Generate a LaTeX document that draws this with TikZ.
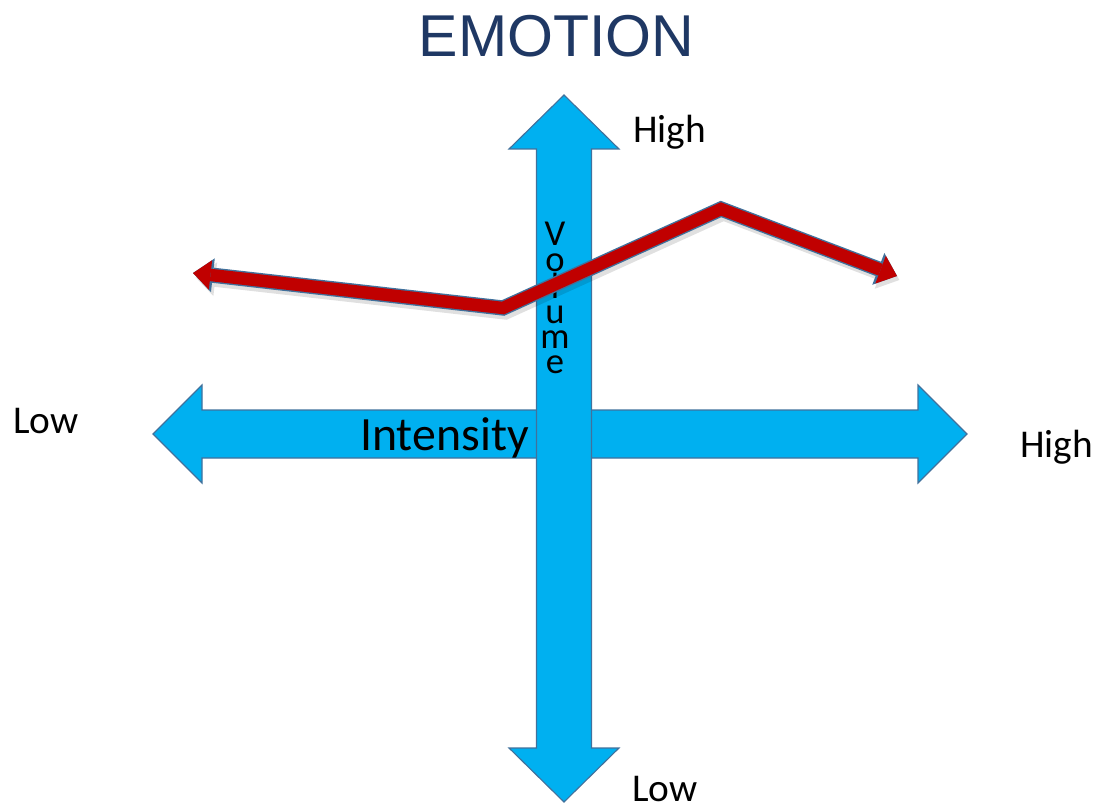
\documentclass[tikz,border=0pt]{standalone}
\usepackage{fontspec}
\setmainfont{Carlito}
\newfontfamily\titlefont{Liberation Sans}
\usetikzlibrary{arrows.meta}

\definecolor{axisblue}{RGB}{0,176,240}
\definecolor{axisline}{RGB}{65,113,156}
\definecolor{trendred}{RGB}{192,0,0}
\definecolor{titlenavy}{RGB}{31,56,100}

\tikzset{
  axisarrow/.style={fill=axisblue, draw=axisline, line width=0.8pt},
  scalelabel/.style={font=\fontsize{28}{28}\selectfont, inner sep=0pt, anchor=base west},
  trendshadow/.style={draw=black, opacity=0.12, line width=0.38cm,
    transform canvas={xshift=0.06cm, yshift=-0.1cm},
    {Triangle[length=0.5cm, width=0.85cm, line width=0pt]}-{Triangle[length=0.5cm, width=0.85cm, line width=0pt]}},
  trendoutline/.style={draw=axisline, line width=0.38cm,
    {Triangle[length=0.5cm, width=0.85cm, line width=0pt]}-{Triangle[length=0.5cm, width=0.85cm, line width=0pt]}},
  trendline/.style={draw=trendred, line width=0.31cm,
    {Triangle[length=0.44cm, width=0.74cm, line width=0pt]}-{Triangle[length=0.44cm, width=0.74cm, line width=0pt]}},
}

\begin{document}
\begin{tikzpicture}
    \useasboundingbox (0,0) rectangle (27.45,20.25);

    % Title
    \node[anchor=base, inner sep=0pt, text=titlenavy, font=\titlefont\fontsize{42}{42}\selectfont] (title) at (13.91,18.825) {EMOTION};

    % Intensity axis (horizontal)
    \filldraw[axisarrow] (3.825,9.4) -- (5.05,10.625) -- (5.05,10.0) -- (22.95,10.0) -- (22.95,10.625) -- (24.175,9.4)
        -- (22.95,8.175) -- (22.95,8.8) -- (5.05,8.8) -- (5.05,8.175) -- cycle;
    \node[anchor=base west, inner sep=0pt, font=\fontsize{34}{34}\selectfont] (intensity) at (9.0,9.0) {Intensity};
    \node[scalelabel] (intlow) at (0.325,9.425) {Low};
    \node[scalelabel] (inthigh) at (25.5,8.825) {High};

    % Volume axis (vertical)
    \filldraw[axisarrow] (14.1,17.875) -- (15.475,16.525) -- (14.7875,16.525) -- (14.7875,1.55) -- (15.475,1.55) -- (14.1,0.2)
        -- (12.725,1.55) -- (13.4125,1.55) -- (13.4125,16.525) -- (12.725,16.525) -- cycle;
    \node[anchor=north, inner sep=0pt, align=center, font=\fontsize{26}{18}\selectfont] (volume) at (13.875,14.7) {V\\o\\l\\u\\m\\e};
    \node[scalelabel] (volhigh) at (15.825,16.675) {High};
    \node[scalelabel] (vollow) at (15.8,0.22) {Low};

    % Trend line (red)
    \coordinate (trendstart) at (4.825,13.425);
    \coordinate (trenddip) at (12.575,12.55);
    \coordinate (trendpeak) at (18.025,15.025);
    \coordinate (trendend) at (22.425,13.35);
    \draw[trendshadow] (trendstart) -- (trenddip) -- (trendpeak) -- (trendend);
    \draw[trendoutline] (trendstart) -- (trenddip) -- (trendpeak) -- (trendend);
    \draw[trendline] (trendstart) -- (trenddip) -- (trendpeak) -- (trendend);
\end{tikzpicture}
\end{document}
